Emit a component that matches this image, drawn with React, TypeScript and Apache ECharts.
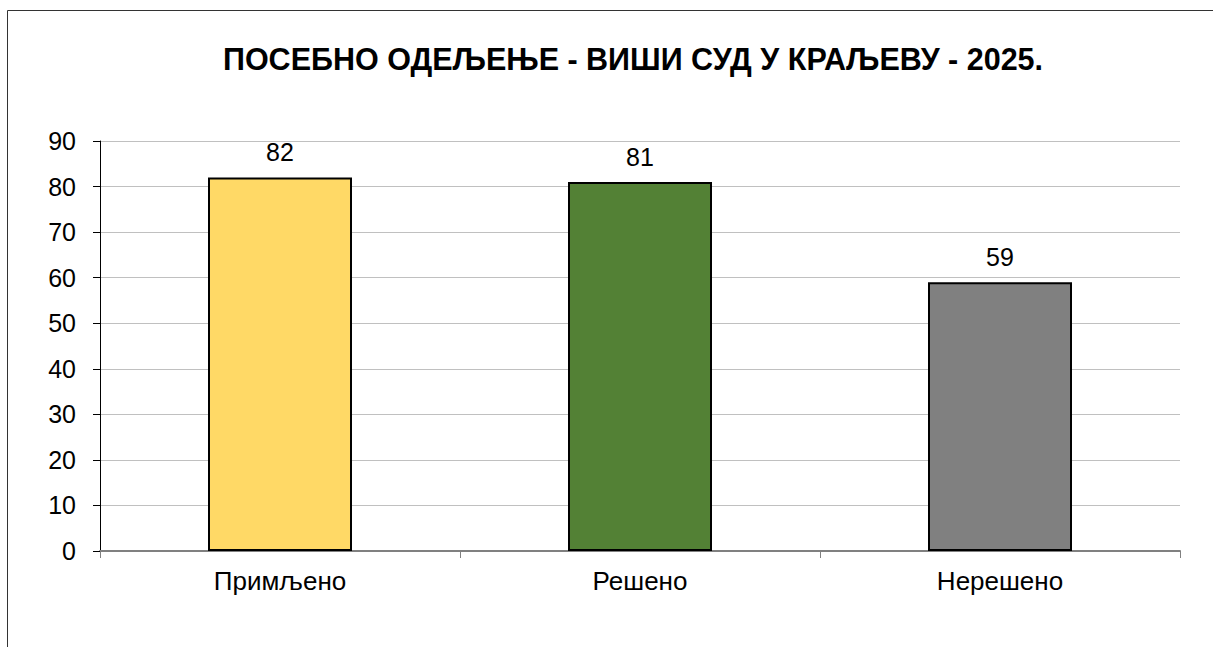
import React, { useEffect, useRef } from "react";
import * as echarts from "echarts";

const title = "ПОСЕБНО ОДЕЉЕЊЕ - ВИШИ СУД У КРАЉЕВУ - 2025.";
const categories = ["Примљено", "Решено", "Нерешено"];
const values = [82, 81, 59];
const barColors = ["#FFD966", "#538135", "#808080"];

export default function App() {
  const ref = useRef<HTMLDivElement>(null);
  useEffect(() => {
    document.body.style.margin = "0";
    const chart = echarts.init(ref.current!, null, { renderer: "svg" });
    const font = "Liberation Sans, Arial, sans-serif";
    chart.setOption({
      animation: false,
      backgroundColor: "#ffffff",
      title: {
        text: title,
        left: 628,
        textAlign: "center",
        top: 38,
        textStyle: { fontFamily: font, fontSize: 30.5, fontWeight: "bold", color: "#000" },
      },
      graphic: [
        {
          type: "rect",
          shape: { x: 7.5, y: 10.5, width: 1300, height: 700 },
          style: { fill: "none", stroke: "#333", lineWidth: 1 },
          silent: true,
        },
      ],
      grid: { left: 100, right: 33, top: 141, bottom: 96, containLabel: false },
      xAxis: {
        type: "category",
        data: categories,
        axisLine: { lineStyle: { color: "#808080", width: 2 } },
        axisTick: { show: true, length: 7, lineStyle: { color: "#808080" } },
        axisLabel: { fontFamily: font, fontSize: 26, color: "#000", margin: 17 },
      },
      yAxis: {
        type: "value",
        min: 0,
        max: 90,
        interval: 10,
        axisLine: { show: true, lineStyle: { color: "#000", width: 1 } },
        axisTick: { show: true, length: 7, lineStyle: { color: "#000" } },
        axisLabel: { fontFamily: font, fontSize: 25, color: "#000", margin: 24 },
        splitLine: { lineStyle: { color: "#c0c0c0", width: 1 } },
      },
      series: [
        {
          type: "bar",
          barWidth: "40%",
          data: values.map((v, i) => ({
            value: v,
            itemStyle: { color: barColors[i], borderColor: "#000", borderWidth: 2 },
          })),
          label: {
            show: true,
            position: "top",
            distance: 13,
            fontFamily: font,
            fontSize: 25,
            color: "#000",
          },
        },
      ],
    });
    return () => chart.dispose();
  }, []);
  return <div ref={ref} style={{ width: 1213, height: 647 }} />;
}
